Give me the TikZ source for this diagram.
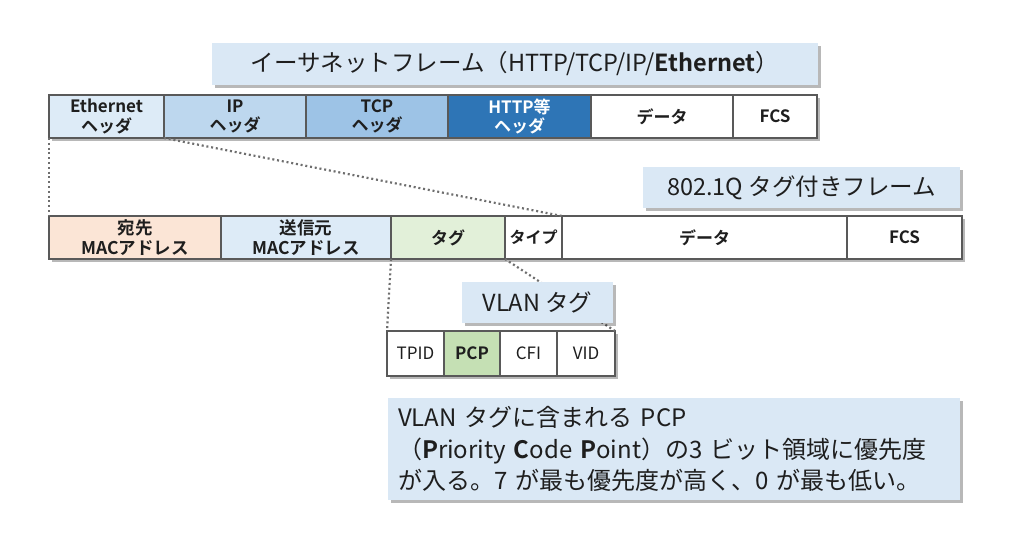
\documentclass[tikz,border=0pt]{standalone}
\usepackage{fontspec}
\setmainfont{Noto Sans CJK JP}[BoldFont={Noto Sans CJK JP Bold}]
\usetikzlibrary{shadows}

\definecolor{ethblue}{RGB}{221,235,247}
\definecolor{ipblue}{RGB}{189,215,238}
\definecolor{tcpblue}{RGB}{157,195,230}
\definecolor{httpblue}{RGB}{46,117,182}
\definecolor{titleblue}{RGB}{218,232,245}
\definecolor{dstpeach}{RGB}{251,229,214}
\definecolor{taggreen}{RGB}{226,240,217}
\definecolor{pcpgreen}{RGB}{197,224,180}
\definecolor{framegray}{RGB}{89,89,89}
\definecolor{dotgray}{RGB}{110,110,110}
\definecolor{textgray}{RGB}{30,30,30}

\tikzset{every picture/.style={line width=0.75pt},
  boxshadow/.style={drop shadow={shadow xshift=3pt, shadow yshift=-3pt, fill=black, opacity=0.28}},
  titlebox/.style={fill=titleblue, text=textgray, inner sep=0pt, boxshadow, font=\fontsize{23.5}{28}\selectfont},
  notebox/.style={titlebox, inner xsep=10pt, align=left, font=\fontsize{24}{31.5}\selectfont},
  cell/.style={draw=framegray, line width=2.3pt, anchor=west, outer sep=0pt, inner sep=0pt, minimum height=43pt, align=center, text=textgray, boxshadow, font=\bfseries\fontsize{17}{19.5}\selectfont},
  field/.style={cell, minimum height=45pt, font=\fontsize{17}{19.5}\selectfont},
  zoomline/.style={draw=dotgray, line width=2.2pt, dash pattern=on 2pt off 2.8pt}
}

\begin{document}
\begin{tikzpicture}[x=1pt,y=1pt,yscale=-1,xscale=1]
	\useasboundingbox (0,0) rectangle (1024,546);

	%Ethernet frame
	\node [cell, fill=ethblue, minimum width=115pt] (eth) at (49,116.5) {Ethernet\\ヘッダ};
	\node [cell, fill=ipblue, minimum width=142pt] (ip) at (164,116.5) {IP\\ヘッダ};
	\node [cell, fill=tcpblue, minimum width=142pt] (tcp) at (306,116.5) {TCP\\ヘッダ};
	\node [cell, fill=httpblue, text=white, minimum width=143pt] (http) at (448,116.5) {HTTP等\\ヘッダ};
	\node [cell, fill=white, minimum width=142pt] (data) at (591,116.5) {データ};
	\node [cell, fill=white, minimum width=84pt] (fcs) at (733,116.5) {FCS};

	%802.1Q frame
	\node [cell, fill=dstpeach, minimum width=172pt, font=\bfseries\fontsize{17.5}{19.5}\selectfont] (dst) at (49,237.5) {宛先\\MACアドレス};
	\node [cell, fill=ethblue, minimum width=170pt, font=\bfseries\fontsize{17.5}{19.5}\selectfont] (src) at (221,237.5) {送信元\\MACアドレス};
	\node [cell, fill=taggreen, minimum width=114pt] (tag) at (391,237.5) {タグ};
	\node [cell, fill=white, minimum width=57pt, font=\bfseries\fontsize{16}{19}\selectfont] (type) at (505,237.5) {タイプ};
	\node [cell, fill=white, minimum width=285pt] (qdata) at (562,237.5) {データ};
	\node [cell, fill=white, minimum width=115pt] (qfcs) at (847,237.5) {FCS};

	%VLAN tag fields
	\node [field, fill=white, minimum width=57pt] (tpid) at (387,353.5) {TPID};
	\node [field, fill=pcpgreen, minimum width=56pt, font=\bfseries\fontsize{17}{19.5}\selectfont] (pcp) at (444,353.5) {PCP};
	\node [field, fill=white, minimum width=57pt] (cfi) at (500,353.5) {CFI};
	\node [field, fill=white, minimum width=58pt] (vid) at (557,353.5) {VID};

	%Straight Lines
	\draw [zoomline] (eth.south west) -- (dst.north west);
	\draw [zoomline] (eth.south east) -- (type.north east);
	\draw [zoomline] (tag.south west) -- (tpid.north west);
	\draw [zoomline] (tag.south east) -- (vid.north east);

	% Text Node
	\node [titlebox, minimum width=606pt, minimum height=42pt] (ethtitle) at (515,64) {イーサネットフレーム（HTTP/TCP/IP/\textbf{Ethernet}）};
	% Text Node
	\node [titlebox, minimum width=317pt, minimum height=41pt] (qtitle) at (801.5,187.5) {802.1Q タグ付きフレーム};
	% Text Node
	\node [titlebox, minimum width=151pt, minimum height=41pt] (vlantitle) at (537.5,302.5) {VLAN タグ};
	% Text Node
	\node [notebox, text width=552pt, minimum height=102pt] (note) at (674,449) {VLAN タグに含まれる PCP\\（\textbf{P}riority \textbf{C}ode \textbf{P}oint）の3 ビット領域に優先度\\が入る。7 が最も優先度が高く、0 が最も低い。};

\end{tikzpicture}
\end{document}
